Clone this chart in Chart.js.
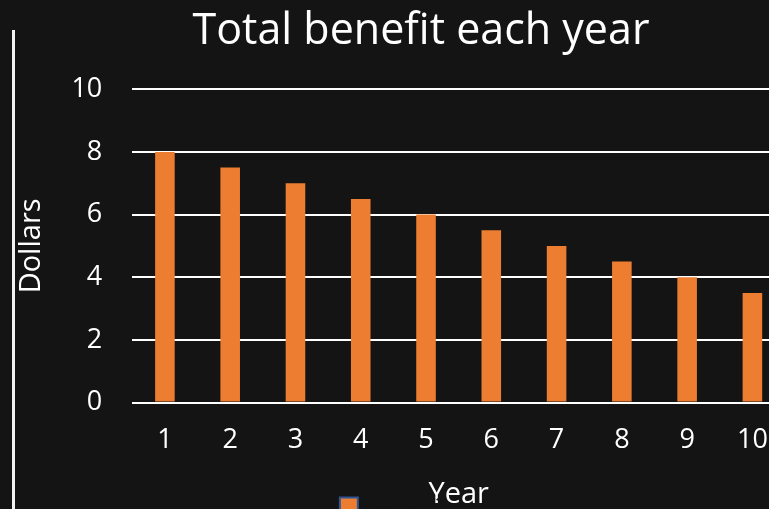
<!DOCTYPE html>
<html>
<head>
<meta charset="utf-8">
<script src="https://cdn.jsdelivr.net/npm/chart.js@4.4.1/dist/chart.umd.min.js"></script>
<style>
  html, body { margin: 0; padding: 0; background: #141414; overflow: hidden; }
  #wrap { position: relative; width: 790px; height: 528px; }
  #edge { position: absolute; left: 12px; top: 30px; width: 3px; height: 500px; background: #f2f2f2; }
</style>
</head>
<body>
<div id="wrap">
  <canvas id="chart"></canvas>
  <div id="edge"></div>
</div>
<script>
const years = ['1', '2', '3', '4', '5', '6', '7', '8', '9', '10'];
const benefit = [8, 7.5, 7, 6.5, 6, 5.5, 5, 4.5, 4, 3.5];
const seriesName = 'Series1';
const yMin = 0, yMax = 10, yStep = 2;

const bgColor = '#141414';
const textColor = '#ffffff';
const barColor = '#ed7d31';

// excel puts the title a bit right of the canvas middle
const titleShift = {
    id: 'titleShift',
    afterLayout(chart) {
        const t = chart.titleBlock;
        t.left += 55;
    }
};

const data = {
    labels: years,
    datasets: [{
        label: seriesName,
        data: benefit,
        backgroundColor: barColor,
        borderWidth: 0,
        barPercentage: 0.3,
        categoryPercentage: 1
    }]
};

const config = {
    type: 'bar',
    data: data,
    plugins: [titleShift],
    options: {
        responsive: true,
        maintainAspectRatio: false,
        animation: false,
        layout: { padding: { left: 0, right: 3, top: 0, bottom: 0 } },
        plugins: {
            title: {
                display: true,
                text: 'Total benefit each year',
                color: textColor,
                font: { family: 'Open Sans', size: 43, weight: 'normal', lineHeight: 1.2 },
                padding: { top: 6, bottom: 31.7 }
            },
            legend: {
                position: 'bottom',
                labels: {
                    color: bgColor,
                    font: { family: 'Open Sans', size: 23 },
                    boxWidth: 18,
                    boxHeight: 18,
                    padding: 0,
                    generateLabels(chart) {
                        const items = Chart.defaults.plugins.legend.labels.generateLabels(chart);
                        items.forEach(it => {
                            it.strokeStyle = '#2f5597';
                            it.lineWidth = 2;
                            it.fontColor = bgColor; // legend text is not visible in the original
                        });
                        return items;
                    }
                }
            },
            tooltip: { enabled: false }
        },
        scales: {
            x: {
                grid: { display: false, drawTicks: false },
                border: { display: false },
                ticks: {
                    color: textColor,
                    font: { family: 'Open Sans', size: 27 },
                    padding: 22,
                    maxRotation: 0
                },
                title: {
                    display: true,
                    text: 'Year',
                    color: textColor,
                    font: { family: 'Open Sans', size: 29, lineHeight: 0.01 },
                    padding: { top: 15.8, bottom: 0 }
                }
            },
            y: {
                min: yMin,
                max: yMax,
                grid: { color: '#ffffff', lineWidth: 2, drawTicks: false },
                border: { display: false },
                ticks: {
                    stepSize: yStep,
                    color: textColor,
                    font: { family: 'Open Sans', size: 27 },
                    padding: 30
                },
                title: {
                    display: true,
                    text: 'Dollars',
                    color: textColor,
                    font: { family: 'Open Sans', size: 29, lineHeight: 0.6 },
                    padding: { top: 23, bottom: 1 }
                }
            }
        }
    }
};

let ctx = document.getElementById('chart').getContext('2d');
new Chart(ctx, config);
</script>
</body>
</html>
